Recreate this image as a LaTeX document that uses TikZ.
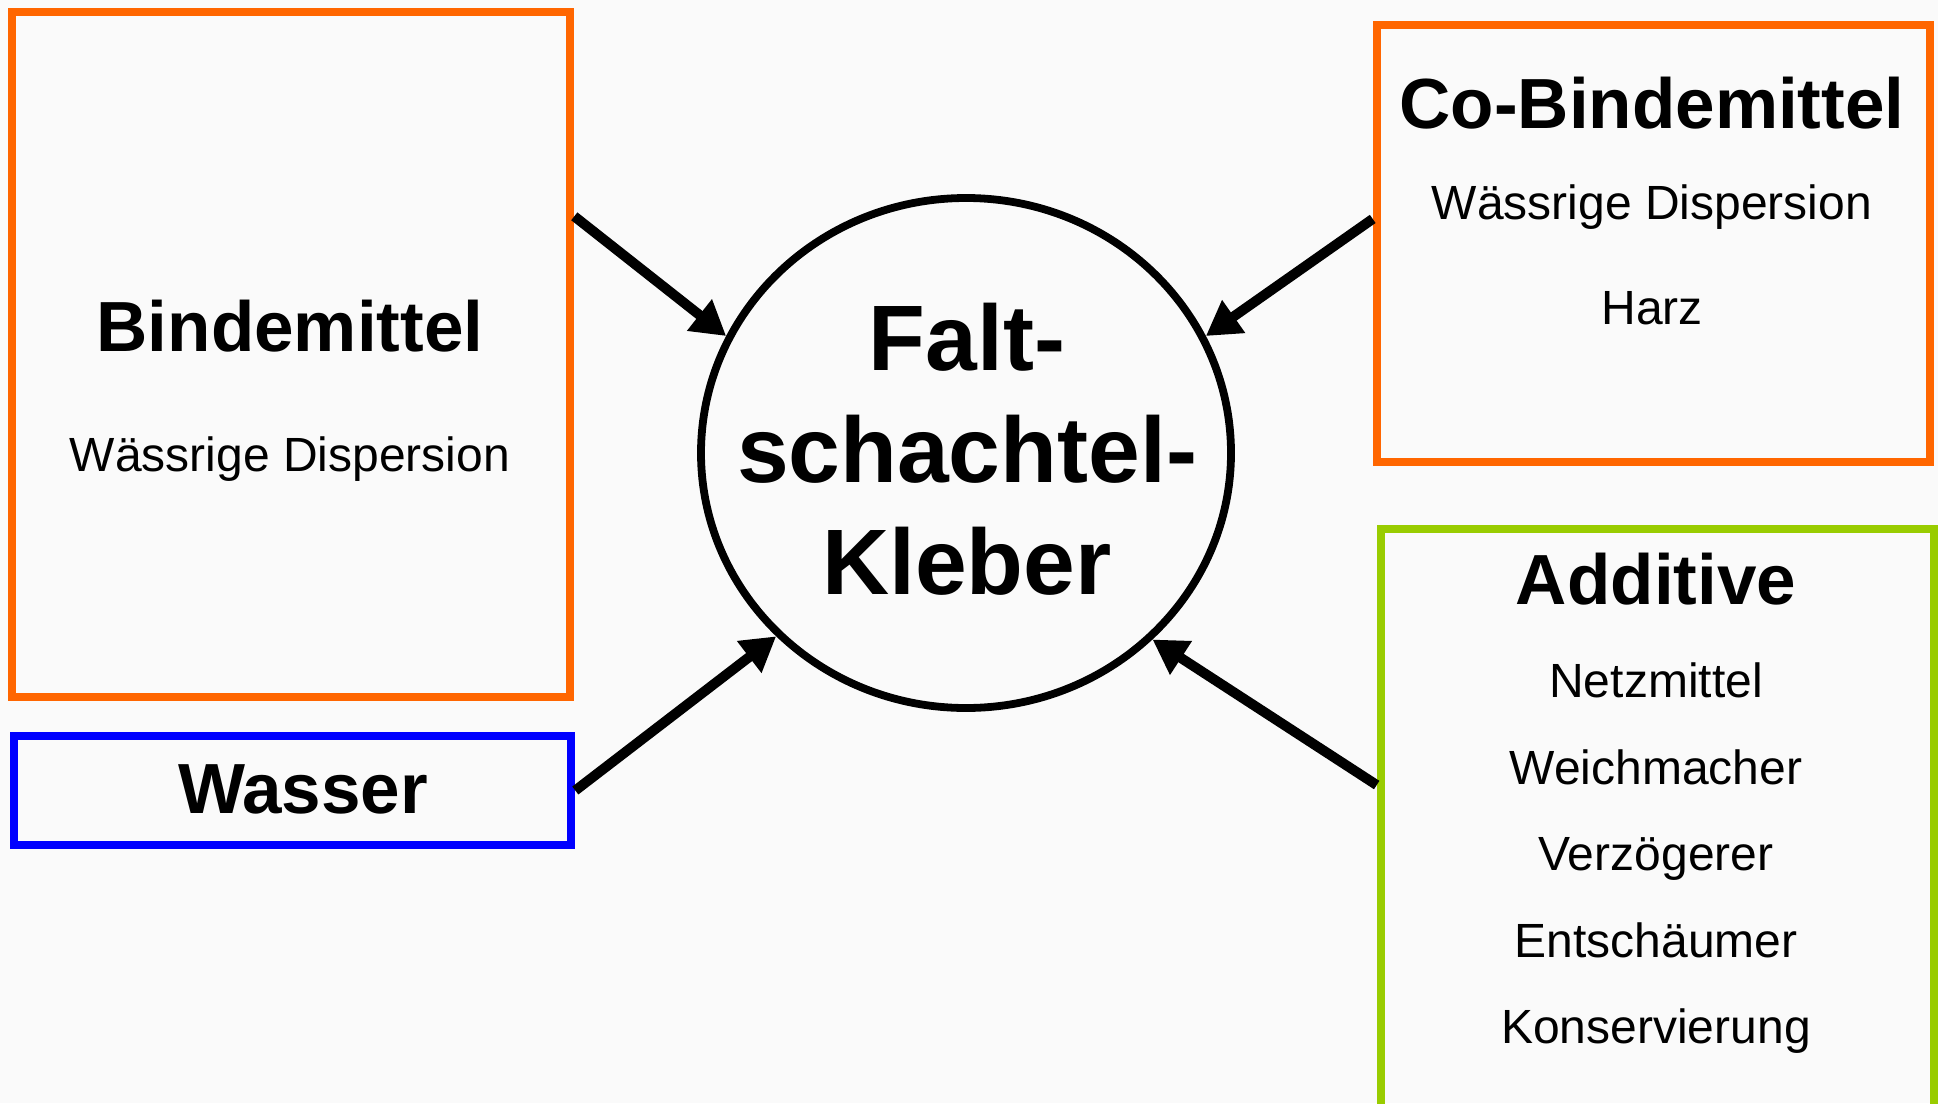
\documentclass[tikz,border=0pt]{standalone}
\usepackage{fontspec}
\setmainfont{Liberation Sans}
\usetikzlibrary{arrows.meta,shapes.geometric,fit}
\definecolor{bg}{HTML}{FAFAFA}
\definecolor{orng}{HTML}{FF6600}
\definecolor{grn}{HTML}{99CC00}
\definecolor{blu}{HTML}{0000FF}
\begin{document}
\begin{tikzpicture}[x=0.5pt,y=-0.5pt,
  box/.style={draw, line width=4.3pt, inner sep=0pt},
  title/.style={font=\bfseries\fontsize{35.5}{40}\selectfont, anchor=base, inner sep=0pt},
  item/.style={font=\fontsize{24}{28}\selectfont, anchor=base, inner sep=0pt},
  big/.style={font=\bfseries\fontsize{46.5}{56}\selectfont, anchor=base, inner sep=0pt},
  feed/.style={line width=5pt, -{Triangle[length=17pt,width=19pt]}}]
\fill[bg] (0,0) rectangle (1938,1103);
\useasboundingbox (0,0) rectangle (1938,1103);
% boxes
\node[box, draw=orng, fit={(12,12) (570,697)}] (bind) {};
\node[box, draw=blu, fit={(14,736) (571,845)}] (wass) {};
\node[box, draw=orng, fit={(1377,25) (1930,462)}] (co) {};
\node[box, draw=grn, fit={(1381,529) (1934,1120)}] (add) {};
% centre
\node[draw, ellipse, line width=3.9pt, minimum width=265pt, minimum height=255pt, inner sep=0pt] (kleber) at (966,453) {};
\node[big] (k1) at (967,370) {Falt-};
\node[big] (k2) at (967,482) {schachtel-};
\node[big] (k3) at (967,594) {Kleber};
% texts
\node[title] (bt) at (290,351) {Bindemittel};
\node[item] (bi) at (290,471) {Wässrige Dispersion};
\node[title] (wt) at (303,813) {Wasser};
\node[title] (ct) at (1652,128) {Co-Bindemittel};
\node[item] (ci1) at (1652,219) {Wässrige Dispersion};
\node[item] (ci2) at (1652,324) {Harz};
\node[title] (at) at (1656,604) {Additive};
\node[item] (a1) at (1656,697) {Netzmittel};
\node[item] (a2) at (1656,784) {Weichmacher};
\node[item] (a3) at (1656,870) {Verzögerer};
\node[item] (a4) at (1656,957) {Entschäumer};
\node[item] (a5) at (1656,1043) {Konservierung};
% arrows
\draw[feed] (bind.26.4) -- (kleber.154);
\draw[feed] (co.175.1) -- (kleber.26);
\draw[feed] (wass.east) -- (kleber.224.8);
\draw[feed] (add.172.7) -- (kleber.315);
\end{tikzpicture}
\end{document}
